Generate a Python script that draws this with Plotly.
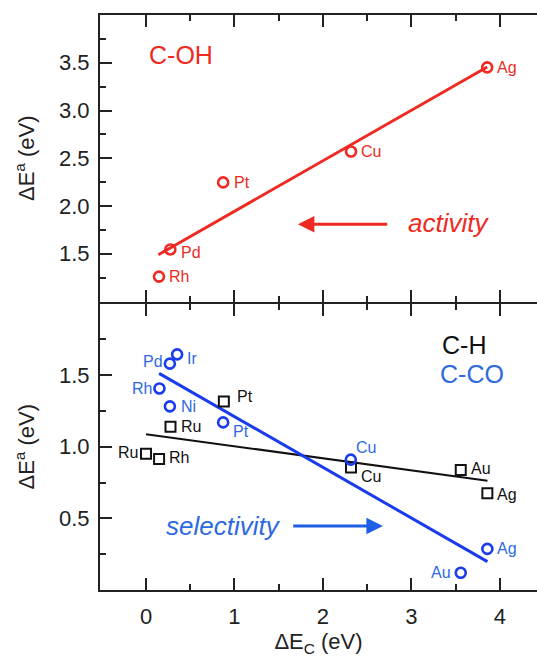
import plotly.graph_objects as go
from plotly.subplots import make_subplots

# ---------------- data ----------------
# C-OH (top panel, red circles)
coh_metals = ["Rh", "Pd", "Pt", "Cu", "Ag"]
coh_x = [0.147, 0.275, 0.872, 2.318, 3.857]
coh_y = [1.26, 1.545, 2.247, 2.57, 3.452]
coh_fit_x = [0.14, 3.857]
coh_fit_y = [1.49, 3.455]

# C-CO (bottom panel, blue circles)
cco_metals = ["Pd", "Ir", "Rh", "Ni", "Pt", "Cu", "Ag", "Au"]
cco_x = [0.27, 0.352, 0.152, 0.27, 0.872, 2.315, 3.859, 3.558]
cco_y = [1.58, 1.645, 1.407, 1.282, 1.17, 0.91, 0.287, 0.12]
cco_fit_x = [0.148, 3.86]
cco_fit_y = [1.512, 0.198]

# C-H (bottom panel, black squares)
ch_metals = ["Ru", "Rh", "Ru", "Pt", "Cu", "Au", "Ag"]
ch_x = [0.0, 0.148, 0.277, 0.88, 2.317, 3.558, 3.859]
ch_y = [0.952, 0.915, 1.14, 1.316, 0.855, 0.837, 0.675]
ch_fit_x = [0.0, 3.86]
ch_fit_y = [1.088, 0.763]

x_ticks = [0, 1, 2, 3, 4]
top_y_ticks = [1.5, 2.0, 2.5, 3.0, 3.5]
bot_y_ticks = [0.5, 1.0, 1.5]

# arrows (tail -> head)
activity_arrow = {"x0": 2.744, "x1": 1.717, "y": 1.808}
selectivity_arrow = {"x0": 1.647, "x1": 2.678, "y": 0.447}

# ---------------- style ----------------
RED = "#ee2a22"
BLUE = "#1a3cec"
BLUE_TXT = "#2d6ae0"
BLACK = "#111111"
AXC = "#222222"
FONT = "Liberation Sans"

# label placement per point: (xanchor, xshift, yshift)
coh_pos = [("left", 8, 0), ("left", 9, -3), ("left", 9, 0), ("left", 8, 0), ("left", 8, 0)]
cco_pos = [("right", -5, 2), ("left", 8, -4), ("right", -5, 0), ("left", 9, 0),
           ("left", 8, -9), ("left", 3, 12), ("left", 8, 0), ("right", -8, 0)]
ch_pos = [("right", -6, 1), ("left", 8, 1), ("left", 8, 0), ("left", 11, 5),
          ("left", 8, -9), ("left", 8, 2), ("left", 8, -1)]

fig = make_subplots(rows=2, cols=1, shared_xaxes=True, vertical_spacing=0)

# top panel
fig.add_trace(go.Scatter(x=coh_fit_x, y=coh_fit_y, mode="lines",
                         line=dict(color=RED, width=3), hoverinfo="skip"), row=1, col=1)
fig.add_trace(go.Scatter(x=coh_x, y=coh_y, mode="markers",
                         marker=dict(symbol="circle-open", size=10, color=RED,
                                     line=dict(width=2.6, color=RED))), row=1, col=1)

# bottom panel
fig.add_trace(go.Scatter(x=ch_fit_x, y=ch_fit_y, mode="lines",
                         line=dict(color=BLACK, width=2), hoverinfo="skip"), row=2, col=1)
fig.add_trace(go.Scatter(x=cco_fit_x, y=cco_fit_y, mode="lines",
                         line=dict(color=BLUE, width=3), hoverinfo="skip"), row=2, col=1)
fig.add_trace(go.Scatter(x=ch_x, y=ch_y, mode="markers",
                         marker=dict(symbol="square-open", size=10, color=BLACK,
                                     line=dict(width=2, color=BLACK))), row=2, col=1)
fig.add_trace(go.Scatter(x=cco_x, y=cco_y, mode="markers",
                         marker=dict(symbol="circle-open", size=10, color=BLUE,
                                     line=dict(width=2.6, color=BLUE))), row=2, col=1)

anns = []


def add_labels(names, xs, ys, pos, color, xref, yref):
    for n, xv, yv, (anc, xs_, ys_) in zip(names, xs, ys, pos):
        anns.append(dict(x=xv, y=yv, xref=xref, yref=yref, text=n, showarrow=False,
                         xanchor=anc, yanchor="middle", xshift=xs_, yshift=ys_,
                         font=dict(family=FONT, size=16, color=color)))


add_labels(coh_metals, coh_x, coh_y, coh_pos, RED, "x", "y")
add_labels(cco_metals, cco_x, cco_y, cco_pos, BLUE_TXT, "x2", "y2")
add_labels(ch_metals, ch_x, ch_y, ch_pos, BLACK, "x2", "y2")

# panel labels
anns.append(dict(x=0.01, y=3.585, xref="x", yref="y", text="C-OH", showarrow=False,
                 xanchor="left", yanchor="middle",
                 font=dict(family=FONT, size=25, color=RED)))
anns.append(dict(x=2.94, y=1.825, xref="x", yref="y", text="<i>activity</i>", showarrow=False,
                 xanchor="left", yanchor="middle",
                 font=dict(family=FONT, size=26, color=RED)))
anns.append(dict(x=3.32, y=1.709, xref="x2", yref="y2", text="C-H", showarrow=False,
                 xanchor="left", yanchor="middle",
                 font=dict(family=FONT, size=25, color=BLACK)))
anns.append(dict(x=3.30, y=1.507, xref="x2", yref="y2", text="C-CO", showarrow=False,
                 xanchor="left", yanchor="middle",
                 font=dict(family=FONT, size=25, color=BLUE_TXT)))
anns.append(dict(x=0.2, y=0.445, xref="x2", yref="y2", text="<i>selectivity</i>", showarrow=False,
                 xanchor="left", yanchor="middle",
                 font=dict(family=FONT, size=26, color=BLUE_TXT)))

# arrows
anns.append(dict(x=activity_arrow["x1"], y=activity_arrow["y"], ax=activity_arrow["x0"],
                 ay=activity_arrow["y"], xref="x", yref="y", axref="x", ayref="y",
                 text="", showarrow=True, arrowhead=2, arrowsize=1.1, arrowwidth=3,
                 arrowcolor=RED))
anns.append(dict(x=selectivity_arrow["x1"], y=selectivity_arrow["y"], ax=selectivity_arrow["x0"],
                 ay=selectivity_arrow["y"], xref="x2", yref="y2", axref="x2", ayref="y2",
                 text="", showarrow=True, arrowhead=2, arrowsize=1.1, arrowwidth=3,
                 arrowcolor="#1f5ee6"))

tickfont = dict(family=FONT, size=22, color=AXC)
titlefont = dict(family=FONT, size=22, color=AXC)
common_x = dict(range=[-0.52, 4.42], tickvals=x_ticks, showline=True, linewidth=2,
                linecolor=AXC, mirror="ticks", ticks="inside", ticklen=12, tickwidth=2,
                tickcolor=AXC, showgrid=False, zeroline=False, automargin=False,
                minor=dict(tickvals=[0.5, 1.5, 2.5, 3.5], ticks="inside", ticklen=6,
                           tickwidth=2, tickcolor=AXC))
fig.update_xaxes(**common_x)
fig.update_xaxes(showticklabels=False, row=1, col=1)
fig.update_xaxes(showticklabels=True, tickfont=tickfont, ticklabelstandoff=6,
                 title=dict(text="ΔE<sub>C</sub> (eV)", font=titlefont, standoff=11),
                 row=2, col=1)

common_y = dict(showline=True, linewidth=2, linecolor=AXC, ticks="inside", ticklen=12,
                tickwidth=2, tickcolor=AXC, showgrid=False, zeroline=False, automargin=False,
                tickfont=tickfont, ticklabelstandoff=4,
                minor=dict(dtick=0.25, ticks="inside", ticklen=6, tickwidth=2, tickcolor=AXC))
fig.update_yaxes(**common_y)
PLOT_H = 657 - 15 - 67
gap = 1.0 / PLOT_H  # so the two shared middle spines overlap into one line
fig.update_yaxes(range=[1.0, 4.0], tickvals=top_y_ticks, tickformat=".1f",
                 domain=[0.5 + gap, 1.0],
                 title=dict(text="ΔE<sup>a</sup> (eV)", font=titlefont, standoff=18),
                 row=1, col=1)
fig.update_yaxes(range=[0.0, 2.0], tickvals=bot_y_ticks, tickformat=".1f",
                 domain=[0.0, 0.5 - gap],
                 title=dict(text="ΔE<sup>a</sup> (eV)", font=titlefont, standoff=18),
                 row=2, col=1)

fig.update_layout(width=537, height=657, margin=dict(l=100, r=0, t=15, b=67),
                  plot_bgcolor="white", paper_bgcolor="white", showlegend=False,
                  annotations=anns, font=dict(family=FONT))

fig.write_html("out.html", config={"displayModeBar": False},
               post_script="document.body.style.margin='0';document.body.style.overflow='hidden';")
